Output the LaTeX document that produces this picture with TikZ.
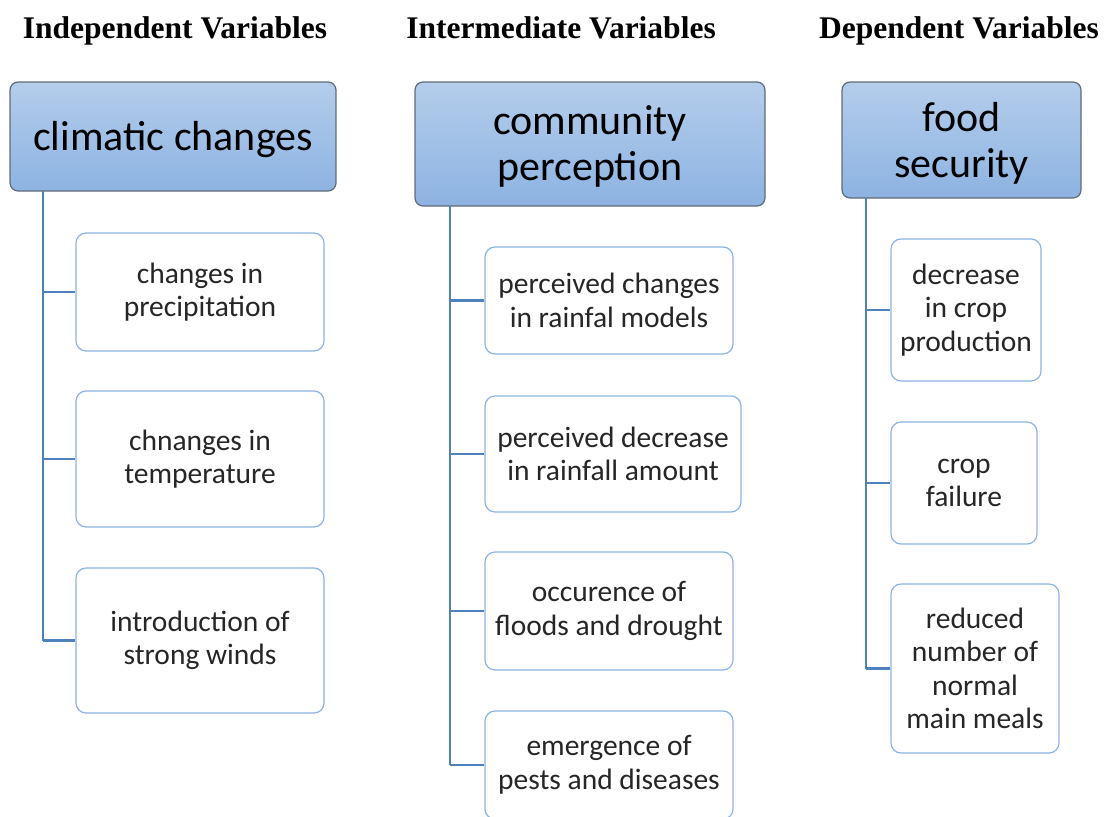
\documentclass[tikz,border=0pt]{standalone}
\usepackage{fontspec}
\setmainfont{Carlito}
\newfontfamily\headfont{Liberation Serif}
\definecolor{linec}{HTML}{4F81BD}
\definecolor{hdtop}{HTML}{B4CDEB}
\definecolor{hdbot}{HTML}{8DB3E2}
\definecolor{hdedge}{HTML}{5F6B78}
\definecolor{chedge}{HTML}{8DB3E2}
\tikzset{
  title/.style={font=\headfont\bfseries\fontsize{31.5}{36}\selectfont, anchor=base},
  header/.style={draw=hdedge, line width=1.2pt, rounded corners=8pt, top color=hdtop, bottom color=hdbot, inner sep=0pt},
  headtext/.style={align=center, font=\fontsize{42}{46}\selectfont, inner sep=0pt, text=black},
  child/.style={draw=chedge, line width=1.2pt, rounded corners=10pt, fill=white,
    align=center, font=\fontsize{29.5}{33.5}\selectfont, inner sep=0pt, text=black!85},
  link/.style={draw=linec, line width=2.6pt}
}
\begin{document}
\begin{tikzpicture}[x=1pt,y=-1pt]
\useasboundingbox (0,0) rectangle (1115,816);
\clip (0,0) rectangle (1115,816);
% titles
\node[title] (t1) at (175,38.5) {Independent Variables};
\node[title] (t2) at (561,38.5) {Intermediate Variables};
\node[title] (t3) at (959,38.5) {Dependent Variables};
% column 1
\node[header, minimum width=326pt, minimum height=109pt] (h1) at (173,136.5) {};
\node[headtext] (h1t) at ([yshift=-3pt]h1.center) {climatic changes};
\node[child, minimum width=248pt, minimum height=118pt] (a1) at (200,292) {changes in\\precipitation};
\node[child, minimum width=248pt, minimum height=136pt] (a2) at (200,459) {chnanges in\\temperature};
\node[child, minimum width=248pt, minimum height=145pt] (a3) at (200,640.5) {introduction of\\strong winds};
\coordinate (s1) at (43,191);
\coordinate (e1) at (43,640.5);
\draw[link] (s1) -- (e1);
\draw[link] (43,292) -- (a1.west);
\draw[link] (43,459) -- (a2.west);
\draw[link] (e1) -- (a3.west);
% column 2
\node[header, minimum width=350pt, minimum height=124pt] (h2) at (590,144) {};
\node[headtext] (h2t) at ([yshift=-2pt]h2.center) {community\\perception};
\node[child, minimum width=248pt, minimum height=107pt] (b1) at (609,300.5) {perceived changes\\in rainfal models};
\node[child, minimum width=256pt, minimum height=116pt] (b2) at (613,454) {perceived decrease\\in rainfall amount};
\node[child, minimum width=248pt, minimum height=118pt] (b3) at (609,611) {occurence of\\floods and drought};
\node[child, minimum width=248pt, minimum height=108pt] (b4) at (609,765) {emergence of\\pests and diseases};
\coordinate (s2) at (450,206);
\coordinate (e2) at (450,765);
\draw[link] (s2) -- (e2);
\draw[link] (450,300.5) -- (b1.west);
\draw[link] (450,454) -- (b2.west);
\draw[link] (450,611) -- (b3.west);
\draw[link] (e2) -- (b4.west);
% column 3
\node[header, minimum width=239pt, minimum height=116pt] (h3) at (961.5,140) {};
\node[headtext] (h3t) at ([yshift=-3pt]h3.center) {food\\security};
\node[child, minimum width=150pt, minimum height=142pt] (c1) at (966,310) {decrease\\in crop\\production};
\node[child, minimum width=146pt, minimum height=122pt] (c2) at (964,483) {crop\\failure};
\node[child, minimum width=168pt, minimum height=169pt] (c3) at (975,668.5) {reduced\\number of\\normal\\main meals};
\coordinate (s3) at (866,198);
\coordinate (e3) at (866,668.5);
\draw[link] (s3) -- (e3);
\draw[link] (866,310) -- (c1.west);
\draw[link] (866,483) -- (c2.west);
\draw[link] (e3) -- (c3.west);
\end{tikzpicture}
\end{document}
